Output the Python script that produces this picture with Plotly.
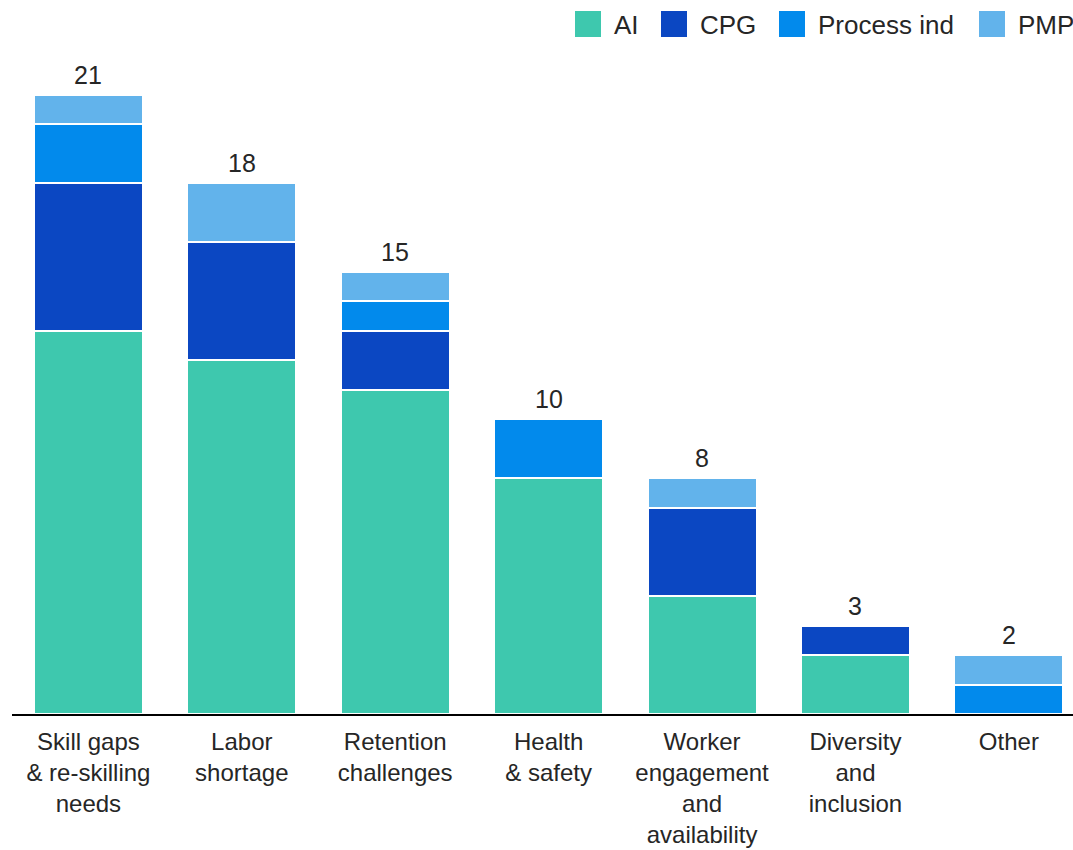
import plotly.graph_objects as go

# Categories (multi-line tick labels)
categories = [
    "Skill gaps<br>& re-skilling<br>needs",
    "Labor<br>shortage",
    "Retention<br>challenges",
    "Health<br>& safety",
    "Worker<br>engagement<br>and<br>availability",
    "Diversity<br>and<br>inclusion",
    "Other",
]

# Stacked series values (bottom to top)
ai = [13, 12, 11, 8, 4, 2, 0]
cpg = [5, 4, 2, 0, 3, 1, 0]
process_ind = [2, 0, 1, 2, 0, 0, 1]
pmp = [1, 2, 1, 0, 1, 0, 1]

series_names = ["AI", "CPG", "Process ind", "PMP"]
series_values = [ai, cpg, process_ind, pmp]
colors = ["#3EC8AE", "#0B47C2", "#028AEC", "#62B3EB"]

totals = [sum(v) for v in zip(*series_values)]

FONT = "Liberation Sans, Arial, sans-serif"
TEXT = "#262626"
W, H = 1073, 850
ML, MR, MT, MB = 12, 0, 60, 136
PW, PH = W - ML - MR, H - MT - MB

fig = go.Figure()
for name, vals, col in zip(series_names, series_values, colors):
    fig.add_trace(go.Bar(
        x=categories,
        y=[v if v else None for v in vals],
        name=name,
        marker=dict(color=col, line=dict(color="white", width=2)),
        showlegend=False,
        hoverinfo="x+y+name",
    ))

# Total labels above each stack
for cat, tot in zip(categories, totals):
    fig.add_annotation(
        x=cat, y=tot, text=str(tot), showarrow=False,
        yanchor="bottom", yshift=4,
        font=dict(family=FONT, size=25, color=TEXT),
    )

# Legend row across the top (pixel layout converted to paper coordinates)
def px_x(p):
    return (p - ML) / PW

def px_y(p):
    return (H - MB - p) / PH

legend_x = [575, 661, 779, 979]
for name, col, lx in zip(series_names, colors, legend_x):
    fig.add_shape(
        type="rect", xref="paper", yref="paper",
        x0=px_x(lx), x1=px_x(lx + 26), y0=px_y(37), y1=px_y(11),
        fillcolor=col, line=dict(width=0),
    )
    fig.add_annotation(
        xref="paper", yref="paper", x=px_x(lx + 37), y=px_y(25),
        xanchor="left", yanchor="middle", text=name, showarrow=False,
        font=dict(family=FONT, size=26, color=TEXT),
    )

unit_px = (714 - 95) / 21.0
fig.update_layout(
    width=W, height=H,
    margin=dict(l=ML, r=MR, t=MT, b=MB, pad=0, autoexpand=False),
    barmode="stack",
    bargap=0.29,
    plot_bgcolor="white",
    paper_bgcolor="white",
    font=dict(family=FONT, size=24, color=TEXT),
    xaxis=dict(
        type="category",
        range=[-0.498, 6.418],
        automargin=False,
        showline=True, linecolor="black", linewidth=2,
        showgrid=False, zeroline=False, ticks="",
        ticklabelstandoff=5,
        tickfont=dict(family=FONT, size=24, color=TEXT),
    ),
    yaxis=dict(
        range=[0, PH / unit_px],
        automargin=False,
        visible=False, showgrid=False, zeroline=False,
    ),
)

fig.write_html("out.html")
